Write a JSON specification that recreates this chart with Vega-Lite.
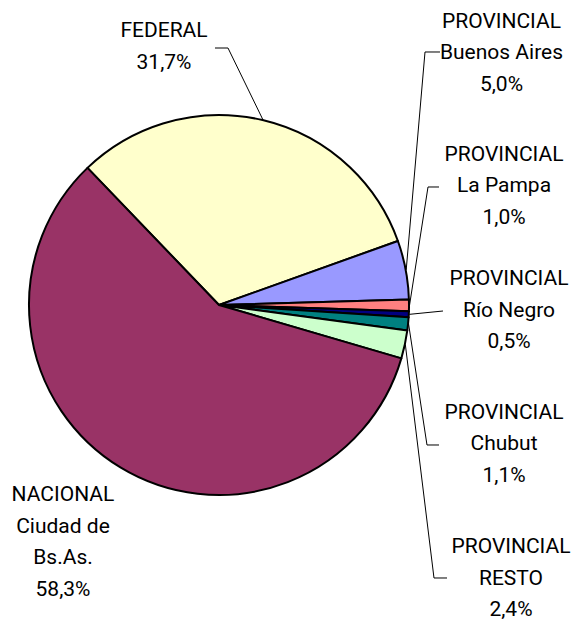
{
  "$schema": "https://vega.github.io/schema/vega-lite/v6.json",
  "width": 438,
  "height": 610,
  "autosize": "none",
  "padding": {"left": 0, "top": 0, "right": 141, "bottom": 11},
  "background": "white",
  "config": {"view": {"stroke": null}},
  "datasets": {
    "slices": [
      {"categoria": "FEDERAL", "pct": 31.7, "orden": 1},
      {"categoria": "PROVINCIAL Buenos Aires", "pct": 5.0, "orden": 2},
      {"categoria": "PROVINCIAL La Pampa", "pct": 1.0, "orden": 3},
      {"categoria": "PROVINCIAL Río Negro", "pct": 0.5, "orden": 4},
      {"categoria": "PROVINCIAL Chubut", "pct": 1.1, "orden": 5},
      {"categoria": "PROVINCIAL RESTO", "pct": 2.4, "orden": 6},
      {"categoria": "NACIONAL Ciudad de Bs.As.", "pct": 58.3, "orden": 7}
    ],
    "labels": [
      {"categoria": "FEDERAL", "texto": "FEDERAL|31,7%", "u": -0.2921, "v": 1.4421},
      {"categoria": "PROVINCIAL Buenos Aires", "texto": "PROVINCIAL|Buenos Aires|5,0%", "u": 1.4842, "v": 1.4911},
      {"categoria": "PROVINCIAL La Pampa", "texto": "PROVINCIAL|La Pampa|1,0%", "u": 1.4974, "v": 0.7895},
      {"categoria": "PROVINCIAL Río Negro", "texto": "PROVINCIAL|Río Negro|0,5%", "u": 1.5237, "v": 0.1368},
      {"categoria": "PROVINCIAL Chubut", "texto": "PROVINCIAL|Chubut|1,1%", "u": 1.4974, "v": -0.5684},
      {"categoria": "PROVINCIAL RESTO", "texto": "PROVINCIAL|RESTO|2,4%", "u": 1.5342, "v": -1.2737},
      {"categoria": "NACIONAL Ciudad de Bs.As.", "texto": "NACIONAL|Ciudad de|Bs.As.|58,3%", "u": -0.8237, "v": -1.0}
    ],
    "leaders": [
      {"categoria": "FEDERAL", "punto": 1, "u": -0.0237, "v": 1.3526},
      {"categoria": "FEDERAL", "punto": 2, "u": 0.0447, "v": 1.3526},
      {"categoria": "FEDERAL", "punto": 3, "u": 0.2294, "v": 0.9733},
      {"categoria": "PROVINCIAL Buenos Aires", "punto": 1, "u": 1.1605, "v": 1.3316},
      {"categoria": "PROVINCIAL Buenos Aires", "punto": 2, "u": 1.0816, "v": 1.3316},
      {"categoria": "PROVINCIAL Buenos Aires", "punto": 3, "u": 0.9827, "v": 0.1853},
      {"categoria": "PROVINCIAL La Pampa", "punto": 1, "u": 1.1553, "v": 0.6211},
      {"categoria": "PROVINCIAL La Pampa", "punto": 2, "u": 1.0974, "v": 0.6211},
      {"categoria": "PROVINCIAL La Pampa", "punto": 3, "u": 1.0, "v": -0.0021},
      {"categoria": "PROVINCIAL Río Negro", "punto": 1, "u": 1.1763, "v": -0.0316},
      {"categoria": "PROVINCIAL Río Negro", "punto": 2, "u": 0.9988, "v": -0.0492},
      {"categoria": "PROVINCIAL Chubut", "punto": 1, "u": 1.1553, "v": -0.7368},
      {"categoria": "PROVINCIAL Chubut", "punto": 2, "u": 1.0921, "v": -0.7368},
      {"categoria": "PROVINCIAL Chubut", "punto": 3, "u": 0.9951, "v": -0.0993},
      {"categoria": "PROVINCIAL RESTO", "punto": 1, "u": 1.1974, "v": -1.4368},
      {"categoria": "PROVINCIAL RESTO", "punto": 2, "u": 1.1289, "v": -1.4368},
      {"categoria": "PROVINCIAL RESTO", "punto": 3, "u": 0.9781, "v": -0.2079}
    ]
  },
  "layer": [
    {
      "data": {"name": "slices"},
      "mark": {"type": "arc", "outerRadius": 190, "stroke": "black", "strokeWidth": 2, "strokeJoin": "round"},
      "encoding": {
        "theta": {"field": "pct", "type": "quantitative", "stack": true, "scale": {"range": [-0.7645, 5.5187]}},
        "color": {
          "field": "categoria",
          "type": "nominal",
          "scale": {
            "domain": ["FEDERAL", "PROVINCIAL Buenos Aires", "PROVINCIAL La Pampa", "PROVINCIAL Río Negro", "PROVINCIAL Chubut", "PROVINCIAL RESTO", "NACIONAL Ciudad de Bs.As."],
            "range": ["#FFFFCC", "#9999FF", "#FF8080", "#000080", "#008080", "#CCFFCC", "#993366"]
          },
          "legend": null
        },
        "order": {"field": "orden", "type": "quantitative"}
      }
    },
    {
      "data": {"name": "leaders"},
      "mark": {"type": "line", "color": "black", "strokeWidth": 1},
      "encoding": {
        "x": {"field": "u", "type": "quantitative", "scale": {"domain": [-1, 1], "range": [29.5, 409.5], "nice": false, "zero": false}, "axis": null},
        "y": {"field": "v", "type": "quantitative", "scale": {"domain": [-1, 1], "range": [495, 115], "nice": false, "zero": false}, "axis": null},
        "detail": {"field": "categoria", "type": "nominal"},
        "order": {"field": "punto", "type": "quantitative"}
      }
    },
    {
      "data": {"name": "labels"},
      "mark": {"type": "text", "font": "Roboto", "fontSize": 21, "lineBreak": "|", "lineHeight": 31.5, "align": "center", "baseline": "middle", "color": "#000000"},
      "encoding": {
        "x": {"field": "u", "type": "quantitative", "scale": {"domain": [-1, 1], "range": [29.5, 409.5], "nice": false, "zero": false}, "axis": null},
        "y": {"field": "v", "type": "quantitative", "scale": {"domain": [-1, 1], "range": [495, 115], "nice": false, "zero": false}, "axis": null},
        "text": {"field": "texto", "type": "nominal"}
      }
    }
  ]
}
